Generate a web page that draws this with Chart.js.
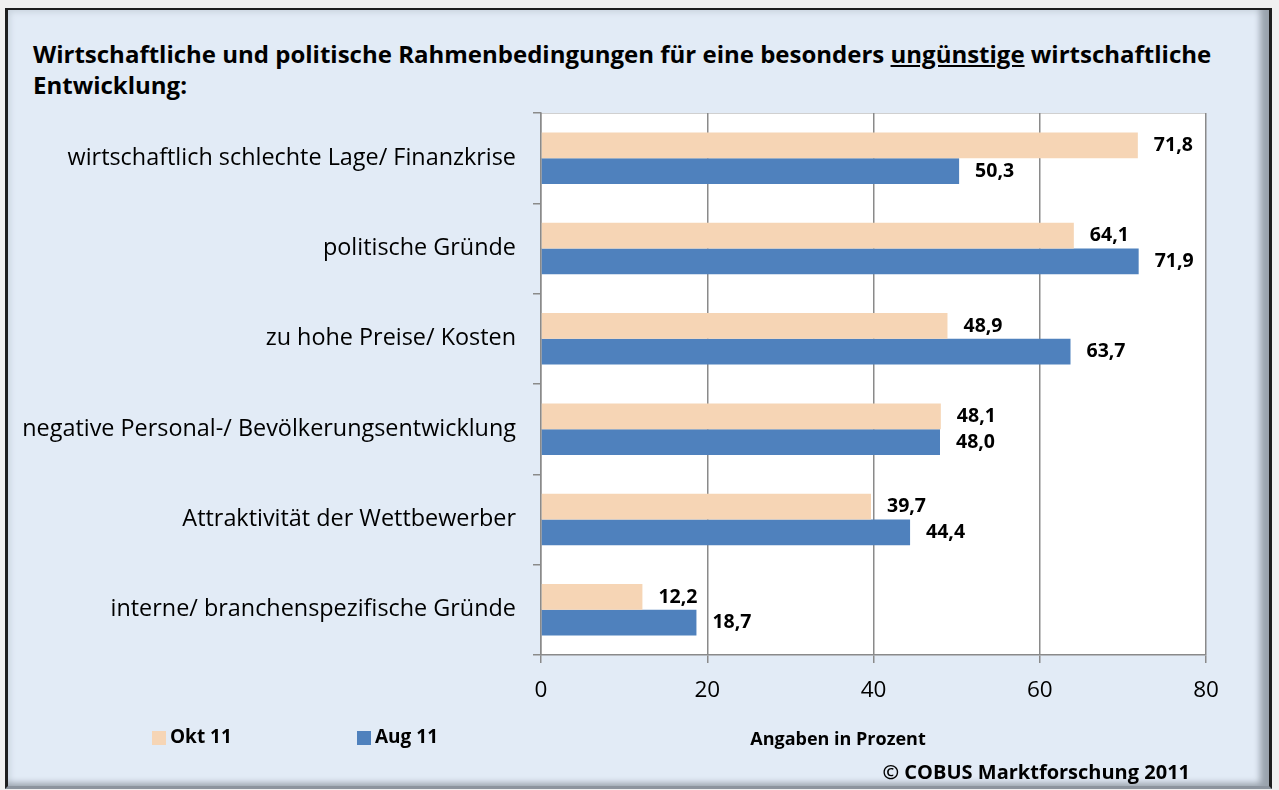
<!DOCTYPE html>
<html>
<head>
<meta charset="utf-8">
<script src="https://cdn.jsdelivr.net/npm/chart.js@4/dist/chart.umd.min.js"></script>
<style>
  html, body { margin: 0; padding: 0; background: #f0f0f0; }
  #rahmen {
    position: absolute; left: 5px; top: 8px; width: 1261px; height: 776px;
    background: #e2ebf6;
    border-left: 3px solid #1e1e1e; border-top: 2px solid #1e1e1e; border-right: 3px solid #1e1e1e;
    border-bottom: 3px solid #8c949e;
    box-shadow: inset -12px -6px 6px -3px #9aa3ad, inset 4px 4px 6px -2px #c9d3de;
  }
  #titel {
    position: absolute; left: 33px; top: 38px; width: 1235px;
    font: bold 24px "Open Sans", sans-serif; line-height: 31px; color: #000;
  }
  #canvasUt0 { position: absolute; left: 0; top: 0; }
</style>
</head>
<body>
<div id="rahmen"></div>
<div id="titel">Wirtschaftliche und politische Rahmenbedingungen für eine besonders <u>ungünstige</u> wirtschaftliche<br>Entwicklung:</div>
<canvas id="canvasUt0" width="1279" height="790"></canvas>
<script>
let kategorien = [
    "wirtschaftlich schlechte Lage/ Finanzkrise",
    "politische Gründe",
    "zu hohe Preise/ Kosten",
    "negative Personal-/ Bevölkerungsentwicklung",
    "Attraktivität der Wettbewerber",
    "interne/ branchenspezifische Gründe"
];
let okt11 = [71.8, 64.1, 48.9, 48.1, 39.7, 12.2];
let aug11 = [50.3, 71.9, 63.7, 48.0, 44.4, 18.7];
let achsenTicks = [0, 20, 40, 60, 80];

let grau = "#8a8a8a";
let schrift = "'Open Sans', sans-serif";

// zahlen neben die balken schreiben
let werteLabel = {
    id: "werteLabel",
    afterDatasetsDraw(chart){
        let ctx = chart.ctx;
        ctx.save();
        ctx.font = "bold 19.5px " + schrift;
        ctx.fillStyle = "#000";
        ctx.textAlign = "left";
        ctx.textBaseline = "middle";
        chart.data.datasets.forEach((ds, i) => {
            chart.getDatasetMeta(i).data.forEach((bar, j) => {
                let txt = ds.data[j].toFixed(1).replace(".", ",");
                ctx.fillText(txt, bar.x + 16, bar.y);
            });
        });
        ctx.restore();
    }
};

// legende + fusszeilen
let fussZeilen = {
    id: "fussZeilen",
    afterDraw(chart){
        let ctx = chart.ctx;
        ctx.save();
        let xs = [152, 357];
        chart.data.datasets.forEach((ds, i) => {
            ctx.fillStyle = ds.backgroundColor;
            ctx.fillRect(xs[i], 731, 14, 14);
            ctx.fillStyle = "#000";
            ctx.font = "bold 19px " + schrift;
            ctx.textBaseline = "middle";
            ctx.textAlign = "left";
            ctx.fillText(ds.label, xs[i] + 18, 738);
        });
        ctx.font = "bold 18px " + schrift;
        ctx.textAlign = "center";
        ctx.fillText("Angaben in Prozent", 838, 740);
        ctx.font = "bold 20px " + schrift;
        ctx.textAlign = "right";
        ctx.fillText("© COBUS Marktforschung 2011", 1190, 773);
        ctx.restore();
    }
};

let plotHintergrund = {
    id: "plotHintergrund",
    beforeDraw(chart){
        let a = chart.chartArea;
        let ctx = chart.ctx;
        ctx.save();
        ctx.fillStyle = "#ffffff";
        ctx.fillRect(a.left, a.top, a.right - a.left, a.bottom - a.top);
        ctx.strokeStyle = "#d0d0d0";
        ctx.lineWidth = 1;
        ctx.beginPath();
        ctx.moveTo(a.left, a.top + 0.5);
        ctx.lineTo(a.right, a.top + 0.5);
        ctx.stroke();
        ctx.restore();
    }
};

function disegnaGrafico(canvas){
    Chart.defaults.font.family = schrift;
    new Chart(canvas, {
        type: "bar",
        data: {
            labels: kategorien,
            datasets: [
                { label: "Okt 11", data: okt11, backgroundColor: "#f6d5b5" },
                { label: "Aug 11", data: aug11, backgroundColor: "#4f81bd" }
            ]
        },
        plugins: [plotHintergrund, werteLabel, fussZeilen],
        options: {
            indexAxis: "y",
            responsive: false,
            animation: false,
            datasets: { bar: { categoryPercentage: 0.57, barPercentage: 1.0 } },
            layout: { padding: { top: 113, right: 73, bottom: 0, left: 0 } },
            plugins: { legend: { display: false }, tooltip: { enabled: false } },
            scales: {
                x: {
                    min: 0, max: 80,
                    afterFit(scale){ scale.height = 135; },
                    afterBuildTicks(scale){ scale.ticks = achsenTicks.map(v => ({ value: v })); },
                    ticks: { color: "#000", font: { size: 22.5 }, padding: 14 },
                    grid: { color: grau, lineWidth: 1.5, tickLength: 8 },
                    border: { color: grau, width: 1.5 }
                },
                y: {
                    afterFit(scale){ scale.width = 541; },
                    ticks: { color: "#000", font: { size: 23.4 }, padding: 17 },
                    grid: { color: grau, lineWidth: 1.5, tickLength: 8, drawOnChartArea: false, offset: true },
                    border: { color: grau, width: 1.5 }
                }
            }
        }
    });
}

window.onload = function(){
    disegnaGrafico(document.getElementById("canvasUt0"));
};
</script>
</body>
</html>
